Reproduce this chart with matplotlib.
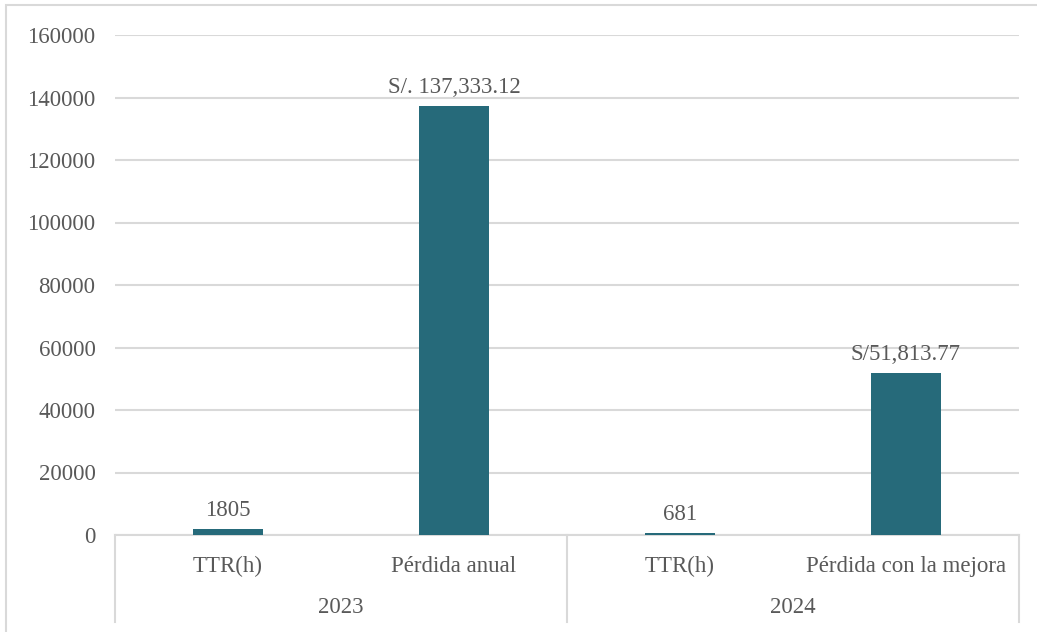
import matplotlib.pyplot as plt
from matplotlib.patches import Rectangle

categories = ["TTR(h)", "Pérdida anual", "TTR(h)", "Pérdida con la mejora"]
years = ["2023", "2024"]
values = [1805, 137333.12, 681, 51813.77]
value_labels = ["1805", "S/. 137,333.12", "681", "S/51,813.77"]
y_ticks = [0, 20000, 40000, 60000, 80000, 100000, 120000, 140000, 160000]

bar_color = "#266a7a"
text_color = "#595959"
line_color = "#d9d9d9"
fs = 16.5

plt.rcParams["font.family"] = ["Liberation Serif", "DejaVu Serif"]

fig = plt.figure(figsize=(10.37, 6.32), dpi=100)
ax = fig.add_axes([115 / 1037, 97 / 632, 904 / 1037, 500 / 632])

# outer chart frame
fig.patches.append(Rectangle((6 / 1037, -0.05), 1.2, (632 - 5) / 632 + 0.05,
                             transform=fig.transFigure, fill=False,
                             edgecolor=line_color, linewidth=1.5))

x = list(range(len(values)))
bars = ax.bar(x, values, width=0.31, color=bar_color, zorder=3)

for bar, lbl in zip(bars, value_labels):
    ax.annotate(lbl, (bar.get_x() + bar.get_width() / 2, bar.get_height()),
                xytext=(0, 6), textcoords="offset points",
                ha="center", va="bottom", fontsize=fs, color=text_color)

ax.set_xlim(-0.5, len(values) - 0.5)
ax.set_ylim(0, 160000)
ax.set_yticks(y_ticks)
ax.set_yticklabels([str(t) for t in y_ticks], fontsize=fs, color=text_color)
ax.tick_params(axis="y", length=0, pad=14)
ax.grid(axis="y", color=line_color, linewidth=1.5, zorder=0)

for side in ["top", "right", "left"]:
    ax.spines[side].set_visible(False)
ax.spines["bottom"].set_color(line_color)
ax.spines["bottom"].set_linewidth(1.5)

# two-level category axis
ax.set_xticks(x)
ax.set_xticklabels(categories, fontsize=fs, color=text_color)
ax.tick_params(axis="x", length=0, pad=15)

trans = ax.get_xaxis_transform()
for i, yr in enumerate(years):
    ax.text(2 * i + 0.5, -0.145, yr, transform=trans, ha="center", va="center",
            fontsize=fs, color=text_color)
for sep in [-0.5, 1.5, 3.5]:
    ax.plot([sep, sep], [0, -0.174], transform=trans, color=line_color,
            linewidth=1.5, clip_on=False)

fig.savefig("out.png", dpi=100)
